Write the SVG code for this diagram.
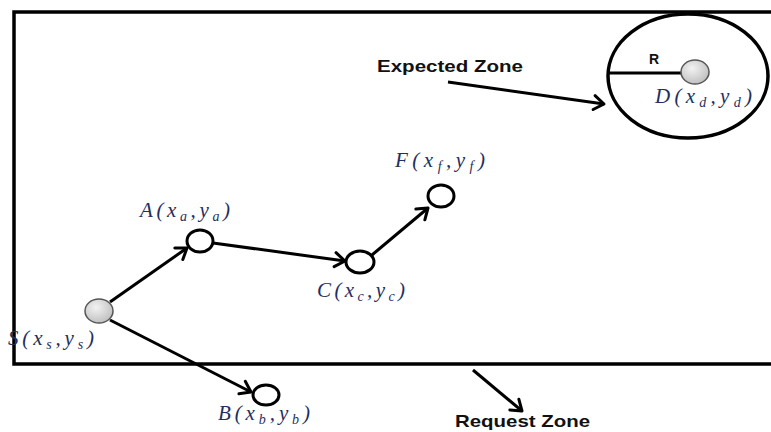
<svg xmlns="http://www.w3.org/2000/svg" width="771" height="432" viewBox="0 0 771 432">
<defs>
<marker id="arr" markerUnits="userSpaceOnUse" markerWidth="20" markerHeight="20" refX="13" refY="10" orient="auto" viewBox="0 0 20 20">
<path d="M3,3 L13,10 L3,17" fill="none" stroke="#000" stroke-width="3" stroke-linecap="round" stroke-linejoin="round"/>
</marker>
<radialGradient id="grey" cx="40%" cy="35%" r="70%">
<stop offset="0" stop-color="#f2f2f2"/>
<stop offset="1" stop-color="#bdbdbd"/>
</radialGradient>
</defs>
<style>
.frame{fill:none;stroke:#000;stroke-width:3.5}
.edge{fill:none;stroke:#000;stroke-width:3;marker-end:url(#arr)}
.hollow{fill:#fff;stroke:#000;stroke-width:3}
.solid{fill:url(#grey);stroke:#555;stroke-width:1.5}
.math{font-family:"Liberation Serif","DejaVu Serif",serif;font-style:italic;font-size:21px;fill:#1f2f5f}
.sub{font-size:14px}
.bold{font-family:"Liberation Sans",Arial,sans-serif;font-weight:bold;fill:#111}
</style>
<rect width="771" height="432" fill="#fff"/>
<g id="request-zone">
<rect class="frame" x="14" y="12" width="770" height="352"/>
<text class="bold" x="455" y="427" font-size="17" textLength="135" lengthAdjust="spacingAndGlyphs">Request Zone</text>
</g>
<g id="expected-zone">
<ellipse cx="688" cy="76" rx="80" ry="62" fill="none" stroke="#000" stroke-width="3.5"/>
<line x1="608" y1="73" x2="682" y2="73" stroke="#000" stroke-width="3"/>
<text class="bold" x="649" y="64" font-size="14">R</text>
<text class="bold" x="377" y="72" font-size="17" textLength="146" lengthAdjust="spacingAndGlyphs">Expected Zone</text>
</g>
<g id="connectors">
<line class="edge" x1="110" y1="302" x2="187" y2="248"/>
<line class="edge" x1="213" y1="243" x2="345" y2="261"/>
<line class="edge" x1="372" y1="255" x2="428" y2="208"/>
<line class="edge" x1="110" y1="320" x2="251" y2="392"/>
<line class="edge" x1="448" y1="82" x2="604" y2="104"/>
<line class="edge" x1="473" y1="370" x2="522" y2="411"/>
</g>
<g id="node-S">
<ellipse class="solid" cx="99" cy="311" rx="14" ry="12"/>
<text class="math" x="8" y="345" textLength="86">S(x<tspan class="sub" dy="4">s</tspan><tspan dy="-4">,y</tspan><tspan class="sub" dy="4">s</tspan><tspan dy="-4">)</tspan></text>
</g>
<g id="node-A">
<ellipse class="hollow" cx="200" cy="241" rx="13" ry="11"/>
<text class="math" x="140" y="217" textLength="90">A(x<tspan class="sub" dy="4">a</tspan><tspan dy="-4">,y</tspan><tspan class="sub" dy="4">a</tspan><tspan dy="-4">)</tspan></text>
</g>
<g id="node-C">
<ellipse class="hollow" cx="360" cy="262" rx="14" ry="11"/>
<text class="math" x="317" y="297" textLength="88">C(x<tspan class="sub" dy="4">c</tspan><tspan dy="-4">,y</tspan><tspan class="sub" dy="4">c</tspan><tspan dy="-4">)</tspan></text>
</g>
<g id="node-F">
<ellipse class="hollow" cx="441" cy="196" rx="13" ry="11"/>
<text class="math" x="395" y="167" textLength="90">F(x<tspan class="sub" dy="4">f</tspan><tspan dy="-4">,y</tspan><tspan class="sub" dy="4">f</tspan><tspan dy="-4">)</tspan></text>
</g>
<g id="node-B">
<ellipse class="hollow" cx="266" cy="395" rx="13" ry="10"/>
<text class="math" x="218" y="420" textLength="92">B(x<tspan class="sub" dy="4">b</tspan><tspan dy="-4">,y</tspan><tspan class="sub" dy="4">b</tspan><tspan dy="-4">)</tspan></text>
</g>
<g id="node-D">
<ellipse class="solid" cx="695" cy="72" rx="14" ry="12"/>
<text class="math" x="655" y="103" textLength="97">D(x<tspan class="sub" dy="4">d</tspan><tspan dy="-4">,y</tspan><tspan class="sub" dy="4">d</tspan><tspan dy="-4">)</tspan></text>
</g>
</svg>
